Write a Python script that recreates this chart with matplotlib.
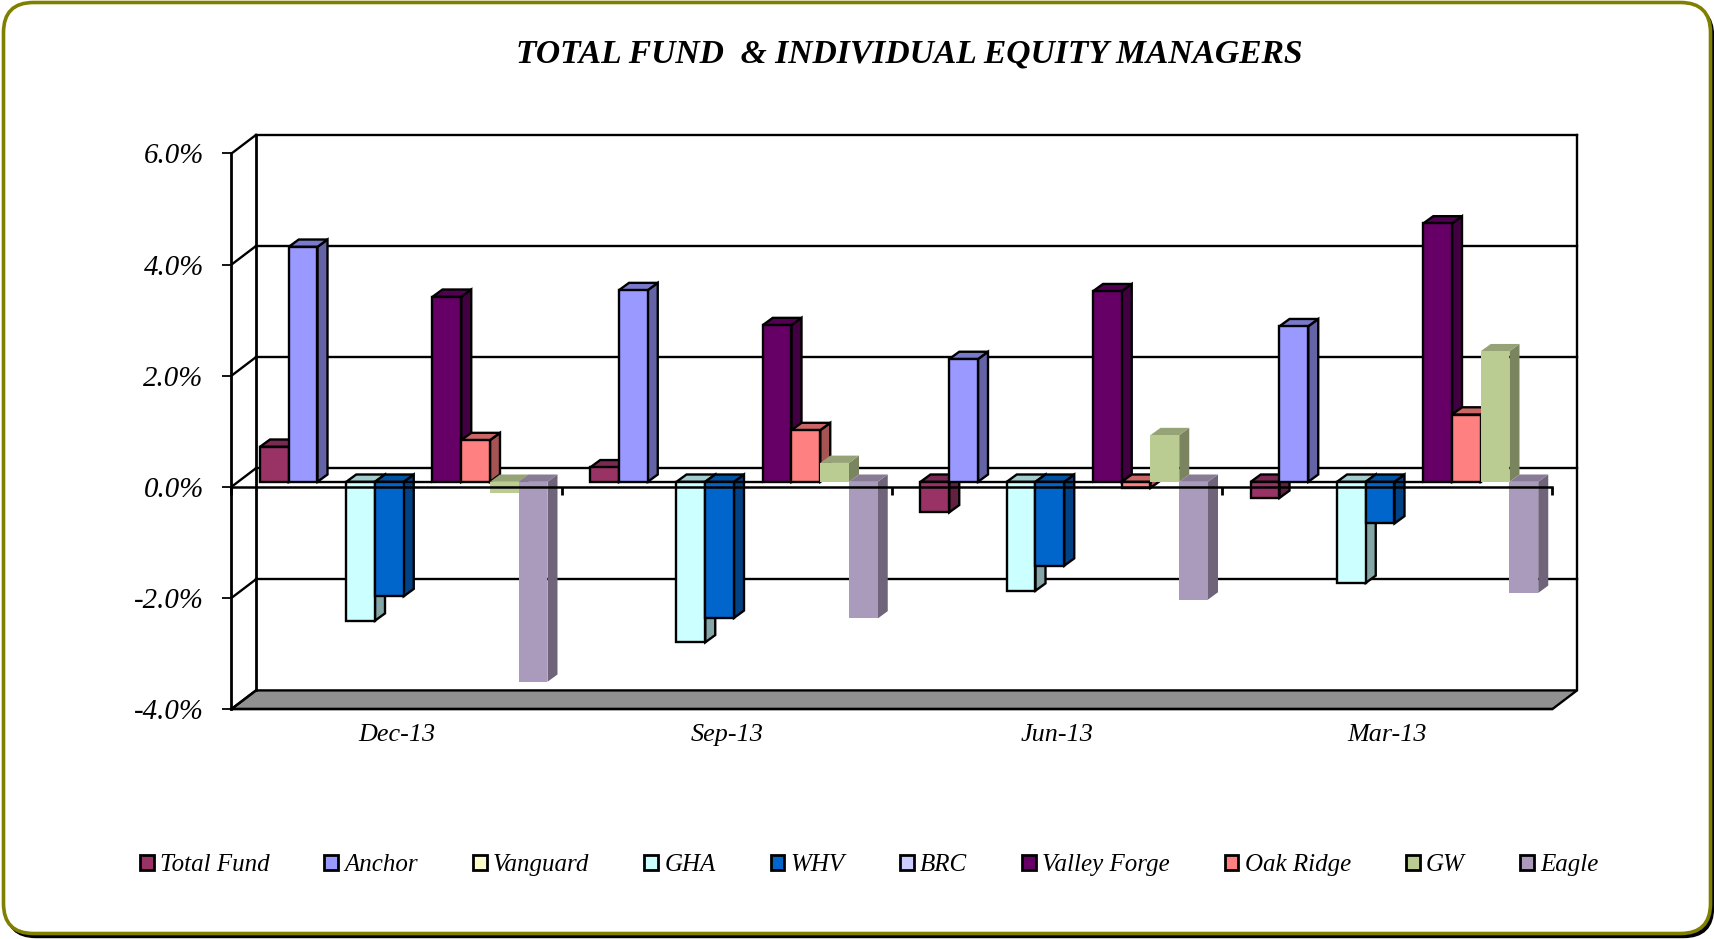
import matplotlib
matplotlib.use("Agg")
import matplotlib.pyplot as plt
import numpy as np
from matplotlib.colors import to_rgb
from matplotlib.patches import FancyBboxPatch, Patch

categories = ["Dec-13", "Sep-13", "Jun-13", "Mar-13"]
total_fund = [0.63, 0.26, -0.55, -0.29]
anchor = [4.23, 3.45, 2.21, 2.80]
vanguard = [0, 0, 0, 0]
gha = [-2.50, -2.89, -1.96, -1.82]
whv = [-2.06, -2.45, -1.51, -0.75]
brc = [0, 0, 0, 0]
valley_forge = [3.33, 2.82, 3.43, 4.65]
oak_ridge = [0.75, 0.93, -0.11, 1.21]
gw = [-0.20, 0.34, 0.84, 2.35]
eagle = [-3.60, -2.46, -2.12, -2.00]

names = ["Total Fund", "Anchor", "Vanguard", "GHA", "WHV", "BRC",
         "Valley Forge", "Oak Ridge", "GW", "Eagle"]
series = [total_fund, anchor, vanguard, gha, whv, brc, valley_forge, oak_ridge, gw, eagle]
colors = ["#993366", "#9999FF", "#FFFFCC", "#CCFFFF", "#0066CC", "#CCCCFF",
          "#660066", "#FF8080", "#BBCC93", "#AA9ABC"]
y_ticks = [-4, -2, 0, 2, 4, 6]

W, H = 1715, 939
FONT = "Liberation Serif"
plt.rcParams["font.family"] = FONT
fig = plt.figure(figsize=(W / 100, H / 100), dpi=100, facecolor="white")

# decoration layer in pixels
deco = fig.add_axes([0, 0, 1, 1], zorder=0)
deco.set_xlim(0, W)
deco.set_ylim(H, 0)
deco.axis("off")
box = dict(boxstyle="round,pad=0,rounding_size=30")
deco.add_patch(FancyBboxPatch((6, 6), W - 7.5, H - 7.5, fc="black", ec="black", lw=1, **box))
deco.add_patch(FancyBboxPatch((3.5, 2.5), W - 8, H - 8, fc="white", ec="#808000", lw=2.6, **box))

# front plane of the 3-D box
L, R, T, B = 231.5, 1552.5, 153.5, 709
ax = fig.add_axes([L / W, 1 - B / H, (R - L) / W, (B - T) / H], zorder=1)
ax.set_xlim(0, 4)
ax.set_ylim(-4, 6)
ax.patch.set_alpha(0)
px_x = 4 / (R - L)
px_y = 10 / (B - T)

back_dx, back_dy = 24.5 * px_x, 18.6 * px_y
bar_dx, bar_dy = 10 * px_x, 7.3 * px_y
shift_x, shift_y = 6.6 * px_x, 5 * px_y
bar_w = 28.75 * px_x
gap = 21.9 * px_x
LW = 1.7

# floor and walls
ax.fill([0, 4, 4 + back_dx, back_dx], [-4, -4, -4 + back_dy, -4 + back_dy],
        fc="#919191", ec="black", lw=LW, clip_on=False, zorder=1)
for v in y_ticks:
    ax.plot([0, back_dx], [v, v + back_dy], color="black", lw=LW, clip_on=False, zorder=1.5)
    if v > -4:
        ax.plot([back_dx, 4 + back_dx], [v + back_dy] * 2, color="black", lw=LW, clip_on=False, zorder=1.5)
ax.plot([back_dx, back_dx], [-4 + back_dy, 6 + back_dy], color="black", lw=LW + 0.3, clip_on=False, zorder=1.5)
ax.plot([4 + back_dx] * 2, [-4 + back_dy, 6 + back_dy], color="black", lw=LW, clip_on=False, zorder=1.5)

# bars
def shade(c, k):
    return tuple(k * np.array(to_rgb(c)))

x_cat = np.arange(len(categories))
for s, (vals, col) in enumerate(zip(series, colors)):
    vals = np.array(vals, dtype=float)
    lefts = x_cat + gap + shift_x + s * bar_w
    ec = "none" if names[s] in ("GW", "Eagle") else "black"
    z = 3 + s
    for x0, v in zip(lefts, vals):
        if v == 0:
            continue
        top = max(v, 0) + shift_y
        bot = min(v, 0) + shift_y
        x1 = x0 + bar_w
        ax.fill([x1, x1 + bar_dx, x1 + bar_dx, x1],
                [bot, bot + bar_dy, top + bar_dy, top],
                fc=shade(col, 0.65), ec=ec, lw=LW, clip_on=False, zorder=z)
        ax.fill([x0, x1, x1 + bar_dx, x0 + bar_dx],
                [top, top, top + bar_dy, top + bar_dy],
                fc=shade(col, 0.8), ec=ec, lw=LW, clip_on=False, zorder=z)
    ax.bar(lefts, vals, width=bar_w, bottom=shift_y, align="edge", color=col,
           edgecolor=ec, linewidth=LW, clip_on=False, zorder=z + 0.5)

# zero line and its ticks
ax.axhline(0, color="black", lw=LW + 0.1, clip_on=False, zorder=20)
ax.vlines(np.arange(len(categories) + 1), -8 * px_y, 0, color="black", lw=2.0, zorder=20, clip_on=False)

# axes
for side in ("top", "right"):
    ax.spines[side].set_visible(False)
ax.spines["left"].set_linewidth(LW + 0.3)
ax.spines["bottom"].set_linewidth(LW)
ax.spines["left"].set_zorder(2)
ax.spines["bottom"].set_zorder(2)
ax.set_yticks(y_ticks)
ax.set_yticklabels([f"{v:.1f}%" for v in y_ticks], fontsize=20.8, style="italic")
ax.tick_params(axis="y", length=6.5, width=1.3, pad=13.5)
ax.set_xticks(x_cat + 0.5)
ax.set_xticklabels(categories, fontsize=18.8, style="italic")
ax.tick_params(axis="x", length=0, pad=11)

# title
deco.text(909, 54.5, "TOTAL FUND  & INDIVIDUAL EQUITY MANAGERS", ha="center", va="center",
          fontsize=24.2, fontweight="bold", style="italic", color="black")

# legend
handles = [Patch(fc=c, ec="black", lw=2.0) for c in colors]
leg = ax.legend(handles, names, ncol=10, loc="center", bbox_to_anchor=(869, 865),
                bbox_transform=deco.transData, frameon=False, fontsize=18,
                handlelength=0.55, handleheight=0.55, handletextpad=0.25,
                columnspacing=2.2, borderpad=0, labelspacing=0)
for t in leg.get_texts():
    t.set_fontstyle("italic")

fig.savefig("out.png", dpi=100, facecolor="white")
